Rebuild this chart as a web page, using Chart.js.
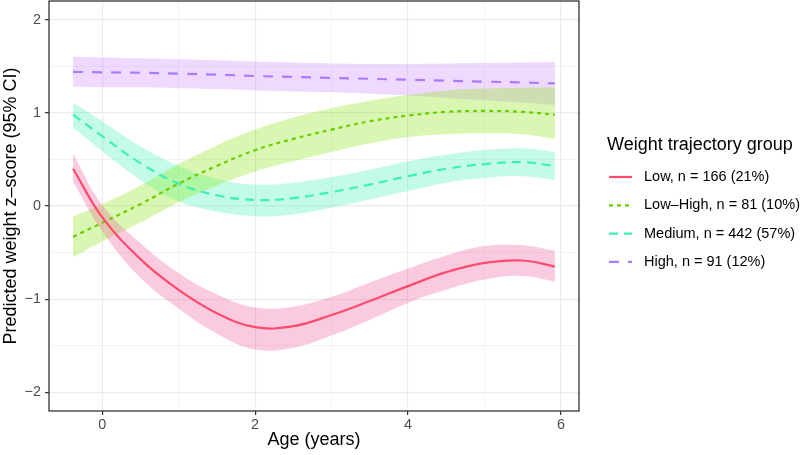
<!DOCTYPE html>
<html>
<head>
<meta charset="utf-8">
<script src="https://cdn.jsdelivr.net/npm/chart.js@4.4.1/dist/chart.umd.min.js"></script>
<style>
  html, body { margin: 0; padding: 0; background: #fff; }
  #wrap { width: 812px; height: 455px; }
</style>
</head>
<body>
<div id="wrap"><canvas id="chart" width="812" height="455"></canvas></div>
<script>
// age grid (years) shared by every series
var ages = [-0.38, 0, 0.5, 1, 1.5, 2, 2.5, 3, 3.5, 4, 4.5, 5, 5.5, 5.92];

// Low, n = 166
var lowFit   = [0.40, -0.12, -0.57, -0.90, -1.15, -1.30, -1.29, -1.17, -1.02, -0.86, -0.71, -0.61, -0.585, -0.65];
var lowUpper = [0.56, 0.01, -0.40, -0.72, -0.95, -1.09, -1.08, -0.975, -0.82, -0.67, -0.53, -0.43, -0.42, -0.48];
var lowLower = [0.26, -0.27, -0.77, -1.10, -1.37, -1.54, -1.52, -1.39, -1.22, -1.04, -0.90, -0.79, -0.75, -0.81];

// Low-High, n = 81
var lowHighFit   = [-0.33, -0.18, 0.02, 0.24, 0.43, 0.60, 0.72, 0.82, 0.91, 0.97, 1.01, 1.02, 1.01, 0.98];
var lowHighUpper = [-0.11, 0.02, 0.22, 0.45, 0.65, 0.82, 0.95, 1.05, 1.13, 1.19, 1.24, 1.26, 1.27, 1.27];
var lowHighLower = [-0.55, -0.38, -0.18, 0.04, 0.22, 0.37, 0.48, 0.58, 0.67, 0.74, 0.77, 0.78, 0.77, 0.72];

// Medium, n = 442
var mediumFit   = [0.98, 0.75, 0.46, 0.24, 0.115, 0.065, 0.085, 0.15, 0.23, 0.32, 0.40, 0.45, 0.47, 0.43];
var mediumUpper = [1.11, 0.91, 0.64, 0.43, 0.29, 0.23, 0.25, 0.31, 0.39, 0.48, 0.55, 0.60, 0.62, 0.58];
var mediumLower = [0.84, 0.59, 0.28, 0.05, -0.06, -0.11, -0.09, -0.02, 0.07, 0.16, 0.25, 0.30, 0.32, 0.28];

// High, n = 91
var highFit   = [1.44, 1.435, 1.43, 1.42, 1.41, 1.395, 1.385, 1.375, 1.365, 1.355, 1.345, 1.335, 1.325, 1.315];
var highUpper = [1.60, 1.595, 1.585, 1.575, 1.565, 1.55, 1.54, 1.53, 1.525, 1.525, 1.53, 1.535, 1.54, 1.545];
var highLower = [1.28, 1.275, 1.275, 1.265, 1.255, 1.24, 1.23, 1.22, 1.205, 1.185, 1.16, 1.135, 1.11, 1.085];

var groupLabels = ['Low, n = 166 (21%)', 'Low\u2013High, n = 81 (10%)', 'Medium, n = 442 (57%)', 'High, n = 91 (12%)'];

var xTicks = [0, 1, 2, 3, 4, 5, 6];
var xMajor = [0, 2, 4, 6];
var yTicks = [-2, -1.5, -1, -0.5, 0, 0.5, 1, 1.5, 2];
var yMajor = [-2, -1, 0, 1, 2];

var FONT = '"Liberation Sans", Arial, Helvetica, sans-serif';

var lineColors = ['#ff4b70', '#66d000', '#3cf2b2', '#a87bff'];
var bandColors = ['rgba(240,82,152,0.3)', 'rgba(130,230,0,0.3)', 'rgba(58,242,178,0.3)', 'rgba(202,128,252,0.3)'];
var dashes = [[], [4, 4], [9, 6], [10, 9]];

function pts(ys) {
    return ages.map(function(a, i) { return {x: a, y: ys[i]}; });
}

var series = [
    [lowFit, lowUpper, lowLower],
    [lowHighFit, lowHighUpper, lowHighLower],
    [mediumFit, mediumUpper, mediumLower],
    [highFit, highUpper, highLower]
];

var datasets = [];
series.forEach(function(s, i) {
    datasets.push({
        label: 'upper' + i, data: pts(s[1]), fill: '+1',
        backgroundColor: bandColors[i], borderWidth: 0, pointRadius: 0,
        tension: 0.4, order: 10
    });
    datasets.push({
        label: 'lower' + i, data: pts(s[2]), fill: false,
        borderWidth: 0, pointRadius: 0, tension: 0.4, order: 10
    });
});
series.forEach(function(s, i) {
    datasets.push({
        label: groupLabels[i], data: pts(s[0]), fill: false,
        borderColor: lineColors[i], borderWidth: 2.2, borderDash: dashes[i],
        pointRadius: 0, tension: 0.4, order: 1
    });
});

var decor = {
    id: 'decor',
    afterDatasetsDraw: function(chart) {
        var a = chart.chartArea, ctx = chart.ctx;
        ctx.save();
        ctx.strokeStyle = '#333333';
        ctx.lineWidth = 1.3;
        ctx.strokeRect(a.left, a.top, a.right - a.left, a.bottom - a.top);
        ctx.restore();
    },
    afterDraw: function(chart) {
        var a = chart.chartArea, ctx = chart.ctx;
        ctx.save();
        ctx.fillStyle = '#000';
        ctx.font = '18px ' + FONT;
        ctx.textAlign = 'center';
        ctx.textBaseline = 'middle';
        ctx.fillText('Age (years)', (a.left + a.right) / 2, 440);
        ctx.save();
        ctx.translate(11, (a.top + a.bottom) / 2);
        ctx.rotate(-Math.PI / 2);
        ctx.fillText('Predicted weight z\u2013score (95% CI)', 0, 0);
        ctx.restore();

        // legend
        ctx.textAlign = 'left';
        ctx.fillText('Weight trajectory group', 607, 145);
        ctx.font = '14.5px ' + FONT;
        groupLabels.forEach(function(lbl, i) {
            var y = 177 + i * 28.3;
            ctx.strokeStyle = lineColors[i];
            ctx.lineWidth = 2.2;
            ctx.setLineDash(dashes[i]);
            ctx.beginPath();
            ctx.moveTo(609, y);
            ctx.lineTo(632, y);
            ctx.stroke();
            ctx.setLineDash([]);
            ctx.fillStyle = '#000';
            ctx.fillText(lbl, 644, y);
        });
        ctx.restore();
    }
};

new Chart(document.getElementById('chart').getContext('2d'), {
    type: 'line',
    data: {datasets: datasets},
    plugins: [decor],
    options: {
        responsive: false,
        animation: false,
        devicePixelRatio: 1,
        layout: {padding: {left: 0, top: 1, right: 233, bottom: 0}},
        plugins: {
            legend: {display: false},
            tooltip: {enabled: false},
            filler: {drawTime: 'beforeDatasetsDraw'}
        },
        scales: {
            x: {
                type: 'linear', min: -0.695, max: 6.235,
                afterBuildTicks: function(scale) {
                    scale.ticks = xTicks.map(function(v) { return {value: v}; });
                },
                afterFit: function(scale) {
                    scale.height = 44;
                    scale.paddingLeft = 0;
                    scale.paddingRight = 0;
                },
                border: {display: false},
                grid: {
                    color: '#ebebeb',
                    lineWidth: function(c) { return xMajor.indexOf(c.tick.value) >= 0 ? 1.2 : 0.6; },
                    tickColor: function(c) { return xMajor.indexOf(c.tick.value) >= 0 ? '#333333' : 'rgba(0,0,0,0)'; },
                    tickLength: 4, tickWidth: 1.2
                },
                ticks: {
                    autoSkip: false, maxRotation: 0, padding: 1,
                    color: '#4d4d4d', font: {family: FONT, size: 14.4},
                    callback: function(v) { return xMajor.indexOf(v) >= 0 ? String(v) : ''; }
                }
            },
            y: {
                type: 'linear', min: -2.2, max: 2.2,
                afterBuildTicks: function(scale) {
                    scale.ticks = yTicks.map(function(v) { return {value: v}; });
                },
                afterFit: function(scale) {
                    scale.width = 49;
                    scale.paddingTop = 0;
                    scale.paddingBottom = 0;
                },
                border: {display: false},
                grid: {
                    color: '#ebebeb',
                    lineWidth: function(c) { return yMajor.indexOf(c.tick.value) >= 0 ? 1.2 : 0.6; },
                    tickColor: function(c) { return yMajor.indexOf(c.tick.value) >= 0 ? '#333333' : 'rgba(0,0,0,0)'; },
                    tickLength: 4, tickWidth: 1.2
                },
                ticks: {
                    autoSkip: false, padding: 4,
                    color: '#4d4d4d', font: {family: FONT, size: 14.4},
                    callback: function(v) { return yMajor.indexOf(v) >= 0 ? String(v).replace('-', '\u2212') : ''; }
                }
            }
        }
    }
});
</script>
</body>
</html>
